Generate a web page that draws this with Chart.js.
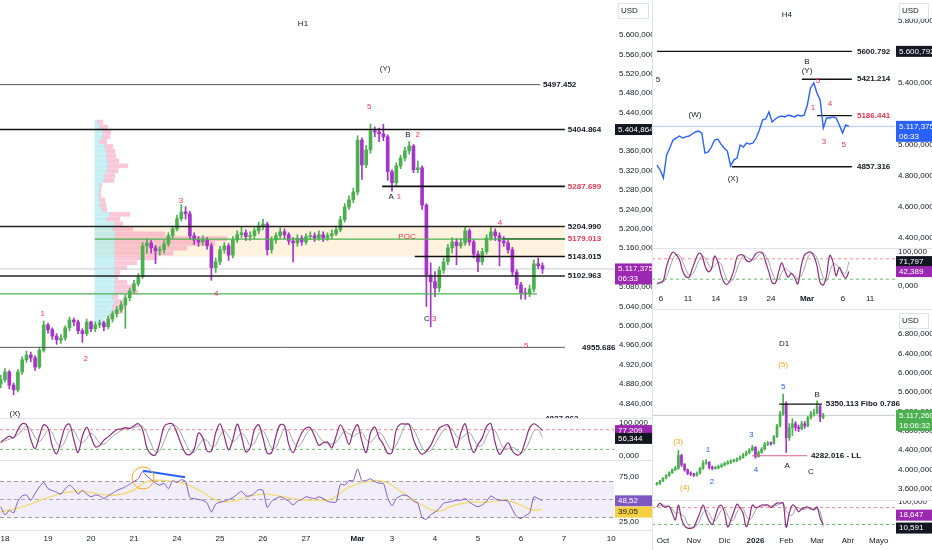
<!DOCTYPE html>
<html>
<head>
<meta charset="utf-8">
<script src="https://cdn.jsdelivr.net/npm/chart.js@4.4.1/dist/chart.umd.min.js"></script>
<style>
  html, body { margin: 0; padding: 0; background: #fff; }
  #wrap { position: relative; width: 932px; height: 550px; overflow: hidden; background: #fff; }
  canvas { position: absolute; }
  .sep { position: absolute; background: #e0e3eb; }
</style>
</head>
<body>
<div id="wrap">
  <canvas id="h1" width="652" height="418" style="left:0;top:0"></canvas>
  <canvas id="h1s" width="652" height="42" style="left:0;top:418px"></canvas>
  <canvas id="h1r" width="652" height="90" style="left:0;top:460px"></canvas>
  <canvas id="h4" width="280" height="248" style="left:652px;top:0"></canvas>
  <canvas id="h4s" width="280" height="62" style="left:652px;top:248px"></canvas>
  <canvas id="d1" width="280" height="190" style="left:652px;top:310px"></canvas>
  <canvas id="d1s" width="280" height="50" style="left:652px;top:500px"></canvas>
  <div class="sep" style="left:0;top:418px;width:652px;height:1px"></div>
  <div class="sep" style="left:0;top:460px;width:652px;height:1px"></div>
  <div class="sep" style="left:0;top:530px;width:652px;height:1px"></div>
  <div class="sep" style="left:652px;top:248px;width:280px;height:1px"></div>
  <div class="sep" style="left:652px;top:309px;width:280px;height:1px"></div>
  <div class="sep" style="left:652px;top:500px;width:280px;height:1px"></div>
  <div class="sep" style="left:652px;top:0;width:1px;height:550px"></div>
</div>
<script>
(() => {
  "use strict";

  // -- H1 (hourly, sampled every 0.1 trading day) ------------------------
  const h1FirstOpen = 4880;
  const h1Close = [4889,4905,4878,4868,4905,4930,4940,4934,4915,4950,
    5002,4992,4979,4971,4975,4996,5012,5008,4990,4984,
    5008,4994,5002,5006,4998,5014,5025,5033,5043,5058,
    5072,5087,5101,5165,5171,5161,5155,5157,5169,5186,
    5200,5221,5235,5231,5186,5177,5173,5177,5165,5120,
    5132,5157,5165,5146,5177,5188,5192,5184,5186,5196,
    5206,5210,5157,5177,5186,5194,5188,5175,5171,5181,
    5173,5184,5186,5181,5188,5181,5186,5190,5198,5219,
    5245,5260,5276,5383,5332,5363,5402,5400,5396,5390,
    5318,5295,5330,5346,5361,5371,5322,5326,5249,5105,
    5091,5078,5115,5132,5161,5173,5165,5171,5196,5173,
    5148,5132,5153,5181,5194,5186,5175,5171,5157,5111,
    5085,5068,5066,5076,5128,5124,5117.375];
  const h1High = [4898,4912,4908,4882,4910,4936,4948,4946,4938,4956,
    5010,5006,4996,4984,4982,5000,5018,5016,5012,4994,
    5014,5010,5008,5012,5010,5020,5030,5040,5050,5064,
    5078,5094,5108,5172,5180,5176,5166,5164,5176,5192,
    5206,5228,5250,5246,5236,5192,5184,5186,5182,5170,
    5140,5164,5172,5170,5184,5196,5204,5198,5194,5202,
    5214,5220,5214,5184,5192,5202,5200,5192,5182,5188,
    5186,5190,5194,5192,5196,5194,5192,5198,5206,5226,
    5252,5268,5284,5392,5388,5372,5416,5410,5408,5416,
    5394,5322,5336,5352,5368,5380,5374,5340,5330,5252,
    5130,5112,5122,5140,5168,5182,5180,5180,5204,5200,
    5178,5154,5160,5188,5204,5200,5192,5184,5176,5162,
    5116,5090,5078,5084,5136,5140,5130];
  const h1Low = [4872,4884,4870,4858,4864,4900,4925,4926,4908,4912,
    4946,4985,4972,4962,4964,4970,4990,5000,4984,4966,
    4980,4988,4988,4996,4990,4994,5008,5018,5028,4995,
    5052,5068,5082,5098,5150,5150,5128,5146,5150,5164,
    5180,5196,5216,5220,5180,5168,5164,5166,5158,5094,
    5110,5126,5150,5135,5140,5172,5182,5176,5176,5180,
    5190,5198,5146,5150,5170,5180,5180,5168,5132,5164,
    5166,5168,5178,5174,5176,5174,5176,5180,5186,5194,
    5214,5240,5254,5270,5302,5326,5356,5390,5380,5382,
    5300,5278,5290,5324,5340,5354,5316,5316,5240,5040,
    4998,5060,5070,5108,5126,5150,5126,5160,5166,5166,
    5140,5112,5126,5148,5176,5176,5124,5164,5150,5104,
    5076,5055,5055,5060,5070,5118,5108];
  const h1StochK = [40,52,60,55,80,98,95,50,22,60,
    95,85,30,6,45,88,97,50,10,60,
    88,58,28,32,48,58,70,80,82,86,
    84,92,98,80,25,5,3,40,90,98,
    97,70,35,8,4,20,70,55,15,15,
    70,98,60,18,50,97,60,12,25,80,
    95,55,8,10,60,95,92,35,10,40,
    70,85,86,60,32,40,42,25,60,95,
    70,35,75,95,45,10,70,88,55,35,
    8,10,80,97,97,96,50,20,5,15,
    32,60,85,92,95,60,25,70,98,45,
    10,35,55,90,98,40,5,22,40,15,
    3,8,45,85,98,90,77.209];
  const h1StochD = [45,46,51,56,65,78,91,81,56,44,
    59,80,70,40,27,46,77,78,52,40,
    53,69,58,39,36,46,59,69,77,83,
    84,87,91,90,68,37,11,16,44,76,
    95,88,67,38,16,11,31,48,47,28,
    33,61,76,59,43,55,69,56,32,39,
    67,77,53,24,26,55,82,74,46,28,
    40,65,80,77,59,44,38,36,42,60,
    75,67,60,68,72,50,42,56,71,59,
    33,18,33,62,91,97,81,55,25,13,
    17,36,59,79,91,82,60,52,64,71,
    51,30,33,60,81,76,48,22,22,26,
    19,9,19,46,76,80,56.344];
  const h1Rsi = [42,33,38,35,48,54,55,49,57,64,
    69,62,60,58,56,62,66,62,56,60,
    56,53,55,54,51,54,57,60,62,64,
    67,70,73,81,76,72,68,66,68,62,
    71,69,72,70,52,51,50,49,46,36,
    45,47,48,50,52,56,59,54,54,57,
    61,60,41,48,51,53,51,48,44,48,
    50,53,52,51,53,51,48,47,47,67,
    66,71,71,84,71,71,73,70,68,68,
    52,43,51,54,55,53,48,46,30,28,
    33,36,40,46,47,48,49,49,51,47,
    44,42,44,48,54,51,49,49,48,39,
    31,29,32,35,53,51,48.52];
  const h1RsiMaDays = [-0.12,0.35,0.65,1.05,1.44,1.81,2.21,2.6,2.98,3.3,3.77,4.14,4.53,4.93,5.3,5.7,6.09,
    6.47,6.86,7.26,7.56,8.02,8.56,8.88,9.26,9.65,10.05,10.42,10.81,11.21,11.67,11.98,12.28,12.49];
  const h1RsiMa = [36,41,46,53,58,59,56,55,60,70,71,68,60,49,48,54,56,
    53,50,49,50,64,71,69,57,45,37,43,47,47,49,44,38,39.05];

  const h1DayTicks = [0, 1, 2, 3, 4, 5, 6, 7, 8.2, 9, 10, 11, 12, 13, 14.1];
  const h1DayLabels = ["18", "19", "20", "21", "24", "25", "26", "27", "Mar", "3", "4", "5", "6", "7", "10"];
  const h1PriceTicks = [4840, 4880, 4920, 4960, 5000, 5040, 5080, 5160, 5200, 5240, 5280, 5320, 5360, 5440, 5480, 5520, 5560, 5600];

  // horizontal levels drawn on the H1 chart (price, from day, to day)
  const h1LevelPrice = [5497.452, 5404.864, 5287.699, 5204.990, 5179.013, 5179.013, 5143.015, 5102.963, 5066, 4955.686];
  const h1LevelFrom = [-0.12, -0.12, 8.77, -0.12, 2.09, 11.56, 9.53, -0.12, -0.12, -0.12];
  const h1LevelTo = [12.44, 13.02, 13.02, 13.02, 13.02, 13.02, 13.02, 13.02, 12.37, 13.02];
  const h1LevelText = ["5497.452", "5404.864", "5287.699", "5204.990", "", "5179.013", "5143.015", "5102.963", "", "4955.686"];
  const h1ZoneLow = 5143.015, h1ZoneHigh = 5204.990, h1ZoneFrom = 2.09, h1ZoneTo = 13.02;

  // volume profile rows (price, up volume, down volume)
  const vpPrice = [5010,5020,5030,5040,5050,5060,5070,5080,5090,5100,5110,5120,5130,5140,5150,5160,5170,5180,5190,5200,5210,
    5220,5230,5240,5250,5260,5270,5280,5290,5300,5310,5320,5330,5340,5350,5360,5370,5380,5390,5400,5410,5420];
  const vpUp = [8,14,18,18,20,18,20,20,20,20,20,20,20,20,20,20,20,20,20,18,20,
    12,15,7,5,5,4,5,5,9,10,12,13,12,12,11,10,5,8,8,5,3];
  const vpDown = [0,4,10,12,8,5,23,18,12,3,5,12,22,42,58,72,100,112,50,20,8,
    13,20,5,6,5,2,1,2,10,10,11,20,12,9,9,8,7,7,8,8,5];
  const vpStartDay = 2.09;

  const h1Notes = [
    ["H1", 6.93, 5623, "k"], ["(Y)", 8.84, 5530, "k"], ["5", 8.47, 5452, "r"], ["B", 9.37, 5394, "k"],
    ["2", 9.6, 5394, "r"], ["A", 8.98, 5266, "k"], ["1", 9.16, 5266, "r"], ["3", 4.09, 5258, "r"],
    ["4", 11.51, 5212, "r"], ["POC", 9.35, 5183, "r"], ["4", 4.91, 5066, "r"], ["1", 0.88, 5025, "r"],
    ["2", 1.88, 4932, "r"], ["C", 9.81, 5014, "k"], ["3", 9.98, 5014, "r"], ["5", 12.12, 4959, "r"],
    ["(X)", 0.23, 4819, "k"]
  ];
  const h1CutLabel = ["4837.862", 12.56, 4808];
  const rsiCircle = [3.21, 73.9];
  const rsiTrendDays = [3.21, 4.19];
  const rsiTrendVals = [82, 74.7];

  // -- H4 -----------------------------------------------------------------
  const h4Close = [4868,4836,4784,4932,4978,5029,5042,5055,5042,5049,
    5055,5068,5081,5087,5074,4945,4952,4984,5029,5036,
    5003,4978,4958,4862,4900,4913,4997,4984,5010,5003,
    5010,5042,5094,5158,5165,5210,5145,5165,5178,5184,
    5178,5190,5184,5178,5190,5184,5190,5255,5365,5397,
    5332,5287,5107,5171,5171,5178,5171,5126,5074,5126,5117.375];
  const h4StochK = [6,10,16,58,85,100,92,78,45,28,
    25,50,75,96,92,60,42,50,88,72,
    35,10,5,20,45,85,92,90,75,72,
    82,96,100,97,70,40,10,8,40,68,
    45,26,38,25,6,55,90,98,100,88,
    60,10,3,30,90,71,30,55,35,23,42.389];
  const h4StochD = [10,9,11,28,53,81,92,90,72,50,
    33,34,50,74,88,83,65,51,60,70,
    65,39,17,12,24,50,74,89,86,79,
    76,83,93,98,89,69,40,19,19,39,
    51,46,36,30,23,29,50,81,96,95,
    83,53,24,14,41,64,64,52,40,38,71.797];
  const h4BarTicks = [1.25, 9.7, 18.4, 26.9, 35.6, 46.9, 58.1, 66.6];
  const h4BarLabels = ["6", "11", "14", "19", "24", "Mar", "6", "11"];
  const h4PriceTicks = [4400, 4600, 4800, 5000, 5400, 5800];
  const h4LevelPrice = [5600.792, 5421.214, 5186.441, 4857.316];
  const h4LevelFrom = [0, 45.3, 50, 23.4];
  const h4LevelTo = [60.9, 60.9, 60.9, 60.9];
  const h4Notes = [
    ["H4", 40.6, 5835, "k"], ["5", 0.3, 5416, "k"], ["(W)", 11.9, 5190, "k"], ["(X)", 23.75, 4778, "k"],
    ["B", 46.9, 5532, "k"], ["(Y)", 46.9, 5474, "k"], ["5", 50.3, 5410, "r"], ["1", 48.75, 5236, "r"],
    ["4", 54.1, 5261, "r"], ["3", 52.2, 5016, "r"], ["5", 58.4, 4997, "r"]
  ];

  // -- D1 (sampled every 0.1 month) ----------------------------------------
  const d1FirstOpen = 3690;
  const d1Close = [3700,3760,3816,3870,3930,3990,4021,4288,4100,3990,
    3920,3900,3878,3920,4020,4124,4144,4040,4021,4030,
    4060,4090,4120,4144,4170,4185,4215,4247,4300,4340,
    4400,4452,4267,4350,4420,4520,4540,4534,4680,4903,
    5149,5354,4657,4862,4944,4870,4841,4944,4900,5067,
    5149,5170,5300,5080,5117.26];
  const d1High = [3730,3775,3830,3890,3950,4010,4060,4390,4310,4120,
    4010,3950,3920,3950,4040,4180,4200,4160,4070,4060,
    4090,4120,4150,4180,4200,4215,4240,4280,4330,4380,
    4430,4500,4470,4380,4450,4560,4580,4570,4700,4930,
    5200,5559,5400,4950,5050,4990,4920,5000,4990,5100,
    5200,5250,5420,5330,5160];
  const d1Low = [3670,3690,3745,3800,3855,3915,3970,4000,4060,3960,
    3890,3870,3850,3860,3900,4000,4100,4010,3990,4000,
    4010,4040,4070,4100,4120,4150,4160,4190,4230,4280,
    4320,4380,4230,4250,4330,4400,4490,4500,4520,4660,
    4880,5120,4350,4600,4700,4800,4780,4820,4850,4880,
    5040,5100,5150,4990,5050];
  const d1StochK = [83,96,85,82,85,60,36,89,40,15,
    7,6,10,35,62,89,60,32,20,50,
    82,88,60,11,35,65,92,80,60,12,
    40,89,80,82,89,89,89,80,88,96,
    96,96,10,60,89,82,65,75,80,82,
    75,72,82,43,18.647];
  const d1StochD = [80,88,90,86,84,75,60,62,55,48,
    20,9,8,17,36,62,70,60,37,34,
    51,73,77,53,35,37,64,79,77,51,
    37,47,70,84,84,87,89,86,86,88,
    93,96,67,55,53,77,79,74,73,79,
    79,76,76,66,10.591];
  const d1MonthTicks = [0, 1, 2, 3, 4, 5, 6, 7];
  const d1MonthLabels = ["Oct", "Nov", "Dic", "2026", "Feb", "Mar", "Abr", "Mayo"];
  const d1PriceTicks = [3600, 4000, 4400, 4800, 5200, 5600, 6000, 6400, 6800];
  const d1LevelPrice = [5350.113, 4282.016];
  const d1LevelFrom = [3.77, 2.89];
  const d1LevelTo = [5.16, 4.68];
  const d1LevelText = ["5350.113 Fibo 0.786", "4282.016 - LL"];
  const d1Notes = [
    ["D1", 3.93, 6604, "k"], ["(3)", 0.49, 4575, "o"], ["(4)", 0.71, 3612, "o"], ["1", 1.46, 4411, "b"],
    ["2", 1.59, 3734, "b"], ["3", 2.86, 4718, "b"], ["4", 3.02, 4001, "b"], ["(5)", 3.9, 6174, "o"],
    ["5", 3.9, 5703, "b"], ["B", 5.0, 5539, "k"], ["A", 4.03, 4083, "k"], ["C", 4.8, 3940, "k"]
  ];

  // -- styling -------------------------------------------------------------
  const FONT = "'Liberation Sans Narrow','Liberation Sans',Arial,sans-serif";
  const INK = "#131722";
  const UP = "#4caf50";
  const DOWN = "#a535c8";
  const NOTE_COLORS = { k: INK, r: "#e53950", o: "#f5a623", b: "#2962ff" };
  const nf3 = new Intl.NumberFormat("de-DE", { minimumFractionDigits: 3, maximumFractionDigits: 3 });
  const nf2 = new Intl.NumberFormat("de-DE", { minimumFractionDigits: 2, maximumFractionDigits: 2 });

  const H1_X = [-0.116, 14.163];
  const H4_X = [-1.56, 74.4];
  const D1_X = [-0.357, 7.53];
  const h1Days = h1Close.map((_, i) => -0.1 + i * 0.1);
  const h4Bars = h4Close.map((_, i) => i);
  const d1Months = d1Close.map((_, i) => -0.2 + i * 0.1);
  const last = (a) => a[a.length - 1];

  // -- plugins (built per chart so the item lists stay plain objects) -------
  function notePlugin(items) {
    return {
      id: "notes",
      afterDatasetsDraw(chart) {
        const { ctx, scales: { x, y } } = chart;
        ctx.save();
        ctx.textBaseline = "middle";
        for (const n of items) {
          ctx.font = `${n.bold ? "bold " : ""}${n.size || 8}px ${FONT}`;
          ctx.fillStyle = n.color || INK;
          ctx.textAlign = n.align || "center";
          ctx.fillText(n.text, x.getPixelForValue(n.x), y.getPixelForValue(n.y));
        }
        ctx.restore();
      }
    };
  }

  // last-value tags on the price scale; "at" moves a tag off its value when tags collide
  function boxPlugin(items, usd) {
    return {
      id: "boxes",
      afterDraw(chart) {
        const { ctx, chartArea } = chart;
        const ys = chart.scales.y;
        const x0 = chartArea.right + 1;
        const w = chart.width - x0;
        ctx.save();
        ctx.textBaseline = "middle";
        ctx.textAlign = "left";
        ctx.font = `8px ${FONT}`;
        for (const b of items) {
          const yc = ys.getPixelForValue(b.at !== undefined ? b.at : b.v);
          ctx.fillStyle = b.bg;
          ctx.fillRect(x0, yc - 5.5, w, b.sub ? 21 : 11);
          ctx.fillStyle = b.fg || "#fff";
          ctx.fillText(b.text, x0 + 3, yc);
          if (b.sub) ctx.fillText(b.sub, x0 + 3, yc + 10);
        }
        if (usd) {
          ctx.fillStyle = "#fff";
          ctx.fillRect(x0 + 3, 3, w - 6, 16);
          ctx.strokeStyle = "#e0e3eb";
          ctx.strokeRect(x0 + 3.5, 3.5, w - 7, 15);
          ctx.fillStyle = INK;
          ctx.fillText("USD", x0 + 6, 11);
        }
        ctx.restore();
      }
    };
  }

  // -- helpers -------------------------------------------------------------
  function xAxis(range, tickPos, tickLabels, boldIdx, height) {
    const show = !!tickPos;
    return {
      type: "linear", min: range[0], max: range[1], offset: false, display: show,
      grid: { display: false, drawTicks: false, offset: false }, border: { display: false },
      afterBuildTicks: show ? (s) => { s.ticks = tickPos.map((v) => ({ value: v })); } : undefined,
      afterFit: (s) => {
        if (show) s.height = height;
        s.paddingLeft = 0; s.paddingRight = 0;
      },
      ticks: {
        autoSkip: false, maxRotation: 0, padding: 4, color: INK,
        font: (c) => ({ family: FONT, size: 8, weight: c.index === boldIdx ? "bold" : "normal" }),
        callback: (_v, i) => (tickLabels ? tickLabels[i] : "")
      }
    };
  }

  function yAxis(min, max, ticks, fmt, width, pad) {
    return {
      type: "linear", position: "right", min, max, offset: false,
      grid: { display: false, drawTicks: false, offset: false }, border: { display: false },
      afterBuildTicks: (s) => { s.ticks = ticks.map((v) => ({ value: v })); },
      afterFit: (s) => { s.width = width; s.paddingTop = 0; s.paddingBottom = 0; },
      ticks: { callback: (v) => fmt(v), font: { family: FONT, size: 8 }, color: INK, padding: pad ?? 5 }
    };
  }

  function seg(x0, x1, y, color, width, dash, order) {
    return {
      type: "line", data: [{ x: x0, y }, { x: x1, y }], borderColor: color, borderWidth: width,
      borderDash: dash || [], pointRadius: 0, fill: false, order, tension: 0
    };
  }

  function series(xs, ys, color, width, order, tension) {
    return {
      type: "line", data: xs.map((x, i) => ({ x, y: ys[i] })), borderColor: color, borderWidth: width,
      pointRadius: 0, fill: false, order, tension: tension ?? 0.35
    };
  }

  function candles(xs, firstOpen, high, low, close, bodyW) {
    const open = close.map((c, i) => (i ? close[i - 1] : firstOpen));
    const col = close.map((c, i) => (c >= open[i] ? UP : DOWN));
    return [
      { type: "bar", data: xs.map((x, i) => ({ x, y: [low[i], high[i]] })), backgroundColor: col,
        barThickness: 1, grouped: false, order: 5 },
      { type: "bar", data: xs.map((x, i) => ({ x, y: [open[i], close[i]] })), backgroundColor: col,
        barThickness: bodyW, grouped: false, order: 4, minBarLength: 1 }
    ];
  }

  function notes(list) {
    return list.map(([text, x, y, c]) => ({ text, x, y, color: NOTE_COLORS[c], size: 8 }));
  }

  function makeChart(id, type, datasets, scales, noteItems, boxes, usd) {
    return new Chart(document.getElementById(id), {
      type,
      data: { datasets },
      plugins: [notePlugin(noteItems), boxPlugin(boxes, usd)],
      options: {
        responsive: false, animation: false, events: [],
        layout: { padding: 0, autoPadding: false },
        plugins: { legend: { display: false }, tooltip: { enabled: false } },
        scales
      }
    });
  }

  function stochChart(id, xs, k, d, range, yMin, yMax, tickPos, tickLabels, boldIdx, axisH, width, pad, boxes) {
    return makeChart(id, "line", [
      seg(range[0], range[1], 80, "#f28b8b", 1, [3, 3], 6),
      seg(range[0], range[1], 20, "#66bb6a", 1, [3, 3], 6),
      series(xs, d, "#a79fae", 1, 2),
      series(xs, k, "#8b2f7d", 1.2, 1)
    ], {
      x: xAxis(range, tickPos, tickLabels, boldIdx, axisH),
      y: yAxis(yMin, yMax, [0, 100], (v) => nf3.format(v), width, pad)
    }, [], boxes, false);
  }

  // -- H1 price ------------------------------------------------------------
  const h1Sets = [
    seg(h1ZoneFrom, h1ZoneTo, h1ZoneLow, "rgba(0,0,0,0)", 0, null, 20),
    Object.assign(seg(h1ZoneFrom, h1ZoneTo, h1ZoneHigh, "rgba(0,0,0,0)", 0, null, 20),
      { fill: "-1", backgroundColor: "rgba(255,183,77,0.18)" }),
    { type: "bar", indexAxis: "y", grouped: false, order: 12, barThickness: 4,
      backgroundColor: "rgba(150,225,235,0.55)",
      data: vpPrice.map((p, i) => ({ y: p, x: [vpStartDay, vpStartDay + vpUp[i] / 43] })) },
    { type: "bar", indexAxis: "y", grouped: false, order: 12, barThickness: 4,
      backgroundColor: "rgba(244,143,177,0.5)",
      data: vpPrice.map((p, i) => ({ y: p, x: [vpStartDay + vpUp[i] / 43, vpStartDay + (vpUp[i] + vpDown[i]) / 43] })) },
    seg(H1_X[0], H1_X[1], last(h1Close), "#c9ccd4", 1, null, 10),
    ...candles(h1Days, h1FirstOpen, h1High, h1Low, h1Close, 3)
  ];
  const h1LevelStyle = [["#555", 1], ["#111", 1.6], ["#111", 1.6], ["#222", 1.6], ["#4caf50", 1.2],
    ["#111", 1.4], ["#111", 1.4], ["#222", 1.6], ["#4caf50", 1.2], ["#555", 1]];
  h1LevelPrice.forEach((p, i) => {
    h1Sets.push(seg(h1LevelFrom[i], h1LevelTo[i], p, h1LevelStyle[i][0], h1LevelStyle[i][1], null, 3));
  });
  const h1LevelNotes = h1LevelPrice.map((p, i) => ({
    text: h1LevelText[i], x: h1LevelTo[i] + (i === 9 ? 0.4 : 0.07), y: p,
    color: (i === 2 || i === 5) ? "#e53950" : INK, align: "left", bold: true, size: 8
  }));
  h1LevelNotes.push({ text: h1CutLabel[0], x: h1CutLabel[1], y: h1CutLabel[2], align: "left", bold: true, size: 8 });

  makeChart("h1", "bar", h1Sets, {
    x: xAxis(H1_X, null),
    y: yAxis(4810, 5672, h1PriceTicks, (v) => nf3.format(v), 38)
  }, notes(h1Notes).concat(h1LevelNotes), [
    { v: h1LevelPrice[1], text: nf3.format(h1LevelPrice[1]), bg: "#131722" },
    { v: last(h1Close), text: nf3.format(last(h1Close)), sub: "06:33", bg: "#9c27b0" }
  ], true);

  // -- H1 stochastic ---------------------------------------------------------
  stochChart("h1s", h1Days, h1StochK, h1StochD, H1_X, -12.5, 115.6, null, null, -1, 0, 38, 5, [
    { v: last(h1StochK), text: nf3.format(last(h1StochK)), bg: "#9c27b0" },
    { v: last(h1StochD), at: last(h1StochD) - 3, text: nf3.format(last(h1StochD)), bg: "#131722" }
  ]);

  // -- H1 RSI with date axis ---------------------------------------------------
  makeChart("h1r", "line", [
    seg(H1_X[0], H1_X[1], 30, "#9e9e9e", 1, [4, 3], 8),
    Object.assign(seg(H1_X[0], H1_X[1], 70, "#9e9e9e", 1, [4, 3], 8),
      { fill: "-1", backgroundColor: "rgba(126,87,194,0.10)" }),
    seg(H1_X[0], H1_X[1], 50, "#b0b0b0", 1, [4, 3], 8),
    series(h1RsiMaDays, h1RsiMa, "#f2dc7a", 1.4, 3, 0.4),
    series(h1Days, h1Rsi, "#7e57c2", 1, 2, 0.2),
    { type: "line", data: [{ x: rsiCircle[0], y: rsiCircle[1] }], showLine: false, pointRadius: 11,
      pointBorderColor: "#f5a623", pointBackgroundColor: "rgba(0,0,0,0)", pointBorderWidth: 1, order: 1 },
    series(rsiTrendDays, rsiTrendVals, "#2962ff", 2, 1, 0)
  ], {
    x: xAxis(H1_X, h1DayTicks, h1DayLabels, 8, 20),
    y: yAxis(16.1, 93.9, [25, 75], (v) => nf2.format(v), 38)
  }, [], [
    { v: last(h1Rsi), text: nf2.format(last(h1Rsi)), bg: "#7e57c2" },
    { v: last(h1RsiMa), at: last(h1RsiMa) - 3, text: nf2.format(last(h1RsiMa)), bg: "#f5d142", fg: INK }
  ], false);

  // -- H4 line -----------------------------------------------------------------
  const h4Sets = [
    seg(H4_X[0], H4_X[1], last(h4Close), "#b3c7ff", 1, null, 10),
    series(h4Bars, h4Close, "#2962ff", 1.4, 2, 0)
  ];
  h4LevelPrice.forEach((p, i) => h4Sets.push(seg(h4LevelFrom[i], h4LevelTo[i], p, "#111", 1.4, null, 3)));
  const h4LevelNotes = h4LevelPrice.map((p, i) => ({
    text: p.toFixed(3), x: 62.5, y: p, color: i === 2 ? "#e53950" : INK, align: "left", bold: true, size: 8
  }));
  makeChart("h4", "line", h4Sets, {
    x: xAxis(H4_X, null),
    y: yAxis(4333, 5932, h4PriceTicks, (v) => nf3.format(v), 37, 3)
  }, notes(h4Notes).concat(h4LevelNotes), [
    { v: h4LevelPrice[0], text: nf3.format(h4LevelPrice[0]), bg: "#131722" },
    { v: last(h4Close), text: nf3.format(last(h4Close)), sub: "06:33", bg: "#2962ff" }
  ], true);

  stochChart("h4s", h4Bars, h4StochK, h4StochD, H4_X, -11.8, 111.8, h4BarTicks, h4BarLabels, 5, 20, 37, 3, [
    { v: last(h4StochD), text: nf3.format(last(h4StochD)), bg: "#131722" },
    { v: last(h4StochK), text: nf3.format(last(h4StochK)), bg: "#9c27b0" }
  ]);

  // -- D1 candles ----------------------------------------------------------------
  const d1Sets = [
    seg(D1_X[0], D1_X[1], last(d1Close), "#c9ccd4", 1, null, 10),
    ...candles(d1Months, d1FirstOpen, d1High, d1Low, d1Close, 2),
    seg(d1LevelFrom[0], d1LevelTo[0], d1LevelPrice[0], "#111", 1.4, null, 3),
    seg(d1LevelFrom[1], d1LevelTo[1], d1LevelPrice[1], "#e0608a", 1, null, 3)
  ];
  const d1LevelNotes = d1LevelPrice.map((p, i) => ({
    text: d1LevelText[i], x: d1LevelTo[i] + 0.12, y: p, color: INK, align: "left", bold: true, size: 8
  }));
  makeChart("d1", "bar", d1Sets, {
    x: xAxis(D1_X, null),
    y: yAxis(3365, 7301, d1PriceTicks, (v) => nf3.format(v), 37, 3)
  }, notes(d1Notes).concat(d1LevelNotes), [
    { v: last(d1Close), text: nf3.format(last(d1Close)), sub: "16:06:32", bg: "#4caf50" }
  ], true);

  stochChart("d1s", d1Months, d1StochK, d1StochD, D1_X, -7, 107, d1MonthTicks, d1MonthLabels, 3, 18, 37, 3, [
    { v: last(d1StochK), at: 53, text: nf3.format(last(d1StochK)), bg: "#9c27b0" },
    { v: last(d1StochD), at: 7, text: nf3.format(last(d1StochD)), bg: "#131722" }
  ]);
})();
</script>
</body>
</html>
